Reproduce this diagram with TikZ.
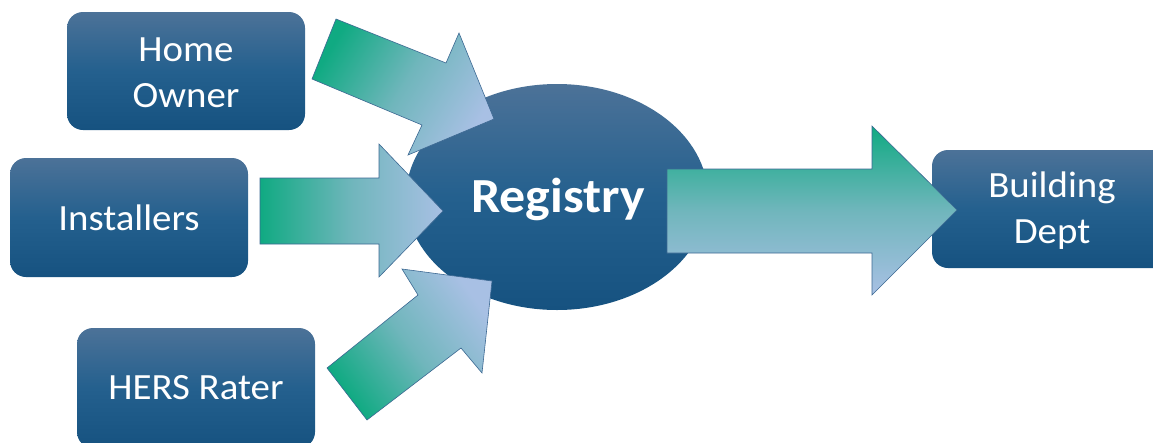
\documentclass[tikz,border=0pt]{standalone}
\usepackage{fontspec}
\setmainfont{Carlito}
\definecolor{boxtop}{RGB}{76,114,152}
\definecolor{boxmid}{RGB}{36,96,142}
\definecolor{boxbot}{RGB}{22,82,128}
\definecolor{arrgreen}{RGB}{16,170,130}
\definecolor{arrmid}{RGB}{112,182,188}
\definecolor{arrblue}{RGB}{168,192,228}
\definecolor{arredge}{RGB}{60,104,146}
\tikzset{
  actor/.style={rounded corners=16pt, top color=boxtop, bottom color=boxbot, middle color=boxmid, draw=none},
  lbl/.style={text=white, font=\fontsize{37}{46}\selectfont, align=center, xscale=1.05},
  blockarrow/.style={draw=arredge, line width=0.6pt, line join=miter},
}
\begin{document}
\begin{tikzpicture}[x=1pt,y=-1pt]
\useasboundingbox (0,0) rectangle (1153,442);
% Registry ellipse
\shade[top color=boxtop, bottom color=boxbot, middle color=boxmid] (557,197) ellipse [x radius=151, y radius=113];
\node[text=white, font=\fontsize{49}{58}\bfseries\selectfont, xscale=1.06] (reg) at (558,199) {Registry};
% boxes
\shade[actor] (67,12) rectangle (305,130);
\node[lbl] (home) at (186,73) {Home\\Owner};
\shade[actor] (10,158) rectangle (248,277);
\node[lbl] (inst) at (129,218) {Installers};
\shade[actor] (77,328) rectangle (315,448);
\node[lbl] (hers) at (196,388) {HERS Rater};
\shade[actor] (932,150) rectangle (1175,268);
\node[lbl] (bld) at (1052,211) {Building\\Dept};
% arrows
\shade[blockarrow, left color=arrgreen, right color=arrblue, middle color=arrmid, shading angle=59]
  (336,19) -- (446,63) -- (459,33) -- (494,119) -- (408,155) -- (422,125) -- (312,79) -- cycle;
\shade[blockarrow, left color=arrgreen, right color=arrblue, middle color=arrmid]
  (260,178) -- (379,178) -- (379,144) -- (443,211) -- (379,277) -- (379,244) -- (260,244) -- cycle;
\shade[blockarrow, left color=arrgreen, right color=arrblue, middle color=arrmid, shading angle=126]
  (327,368) -- (418,295) -- (402,269) -- (492,281) -- (482,373) -- (461,348) -- (367,420) -- cycle;
\shade[blockarrow, top color=arrgreen, bottom color=arrblue, middle color=arrmid]
  (667,169) -- (872,169) -- (872,126) -- (957,210) -- (872,295) -- (872,253) -- (667,253) -- cycle;
\end{tikzpicture}
\end{document}
